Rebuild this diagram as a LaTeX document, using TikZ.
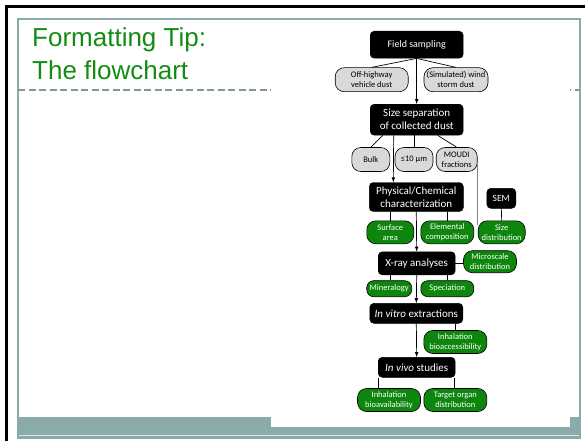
\documentclass[tikz,border=0pt]{standalone}
\usepackage{fontspec}
\setmainfont{Carlito}
\newfontfamily\titlefont{Liberation Sans}
\usepackage{xcolor}
\usepackage{tikz}
\usetikzlibrary{shapes,arrows,calc}
\definecolor{frameteal}{RGB}{138,171,170}
\definecolor{boxgreen}{RGB}{14,134,14}
\definecolor{boxgrey}{RGB}{217,217,217}
\definecolor{titlegreen}{RGB}{20,140,20}
\tikzstyle{tsTitle} = [
    text=titlegreen,
    font=\titlefont\fontsize{26}{30}\selectfont,
    inner sep=0pt,
    anchor=base west
]
\tikzstyle{tsBlackBox} = [
    rectangle,
    rounded corners=4pt,
    draw=black,
    fill=black,
    text=white,
    align=center,
    inner sep=1pt,
    font=\fontsize{11}{13}\selectfont
]
\tikzstyle{tsGreyBox} = [
    rectangle,
    rounded corners=9pt,
    draw=black,
    line width=0.6pt,
    fill=boxgrey,
    text=black,
    align=center,
    inner sep=1pt,
    font=\fontsize{8.5}{10}\selectfont
]
\tikzstyle{tsGreenBox} = [
    tsGreyBox,
    fill=boxgreen,
    text=white
]
\tikzstyle{tsLink} = [
    draw=black,
    line width=0.7pt
]

\begin{document}
\begin{tikzpicture} [x=1pt, y=-1pt, >=latex]
        \useasboundingbox (0,0) rectangle (585,441);

        % Slide frame
        \fill[frameteal] (17,417) rectangle (580,438);
        \draw[white!70!frameteal, line width=0.8pt] (17,435.8) -- (580,435.8);
        \draw[frameteal, line width=2pt] (17.5,19.5) rectangle (579.5,438);
        \draw[frameteal!90!black, dashed, dash pattern=on 7pt off 3.5pt, line width=2pt] (18,90) -- (579,90);
        \fill[white] (271,23) rectangle (570,427);
        \draw[black, line width=3pt] (6.5,441) -- (6.5,6.5) -- (585,6.5);

        % Title
        \node[tsTitle] (tip) at (32,46.7) {Formatting Tip:};
        \node[tsTitle] (chart) at (32,79.3) {The flowchart};

        % Define nodes
        \node[tsBlackBox, minimum width=93, minimum height=27,
              font=\fontsize{10}{12}\selectfont] (fs) at (416.7,44.7) {Field sampling};
        \node[tsGreyBox, minimum width=73, minimum height=24] (ohv) at (371.7,79.7) {Off-highway\\vehicle dust};
        \node[tsGreyBox, minimum width=64, minimum height=24] (wsd) at (456,79.7) {(Simulated) wind\\storm dust};

        \node[tsBlackBox, minimum width=93, minimum height=31] (ss) at (416.7,119.7) {Size separation\\of collected dust};
        \node[tsGreyBox, minimum width=38, minimum height=24] (bulk) at (370.8,159.5) {Bulk};
        \node[tsGreyBox, minimum width=38, minimum height=24] (pm) at (414,159.5) {≤10 µm};
        \node[tsGreyBox, minimum width=41, minimum height=24] (moudi) at (456.7,159.5) {MOUDI\\fractions};

        \node[tsBlackBox, minimum width=94, minimum height=29] (pc) at (416.3,197) {Physical/Chemical\\characterization};
        \node[tsBlackBox, minimum width=29, minimum height=20,
              font=\fontsize{9.5}{11}\selectfont] (sem) at (501.3,198.3) {SEM};
        \node[tsGreenBox, minimum width=47, minimum height=23] (sa) at (390.3,232.3) {Surface\\area};
        \node[tsGreenBox, minimum width=53, minimum height=23] (ec) at (447.3,232.3) {Elemental\\composition};
        \node[tsGreenBox, minimum width=47, minimum height=23] (sd) at (501.7,232.3) {Size\\distribution};

        \node[tsBlackBox, minimum width=77, minimum height=23] (xr) at (416.7,263.3) {X-ray analyses};
        \node[tsGreenBox, minimum width=53, minimum height=22] (ms) at (490,261.7) {Microscale\\distribution};
        \node[tsGreenBox, minimum width=45, minimum height=16, rounded corners=7pt] (min) at (389.2,288.7) {Mineralogy};
        \node[tsGreenBox, minimum width=53, minimum height=16, rounded corners=7pt] (spe) at (447.3,288.7) {Speciation};

        \node[tsBlackBox, minimum width=93, minimum height=20] (ivx) at (416.3,313.3) {\textit{In vitro} extractions};
        \node[tsGreenBox, minimum width=63, minimum height=23] (ib) at (455.3,342) {Inhalation\\bioaccessibility};

        \node[tsBlackBox, minimum width=77, minimum height=20] (ivv) at (416.7,367.3) {\textit{In vivo} studies};
        \node[tsGreenBox, minimum width=63, minimum height=23] (iba) at (389,400) {Inhalation\\bioavailability};
        \node[tsGreenBox, minimum width=63, minimum height=23] (tod) at (455.3,400) {Target organ\\distribution};

        % Connectors
        \draw[tsLink] (fs.south) -- (ohv.north);
        \draw[tsLink] (fs.south) -- (wsd.north);
        \draw[tsLink, ->] (fs.south) -- (ss.north);
        \draw[tsLink] ([xshift=-34pt]ss.south) -- (bulk.north);
        \draw[tsLink] (pm.north |- ss.south) -- (pm.north);
        \draw[tsLink] ([xshift=21pt]ss.south) -- (moudi.north);
        \draw[tsLink, ->] ([xshift=-23pt]ss.south) -- ([xshift=-23pt]pc.north);
        \draw[gray, line width=0.6pt] ([yshift=-4pt]moudi.east) -- ([yshift=-4pt]moudi.east |- sd.north);
        \draw[tsLink] (sa.north |- pc.south) -- (sa.north);
        \draw[tsLink] (ec.north |- pc.south) -- (ec.north);
        \draw[tsLink] (sem.south) -- (sd.north);
        \draw[tsLink, ->] (pc.south) -- (xr.north);
        \draw[tsLink] (xr.east) -- (xr.east -| ms.west);
        \draw[tsLink] (sa.north |- xr.south) -- (min.north -| sa.north);
        \draw[tsLink] (spe.north |- xr.south) -- (spe.north);
        \draw[tsLink, ->] (xr.south) -- (ivx.north);
        \draw[tsLink] (ib.north |- ivx.south) -- (ib.north);
        \draw[tsLink, ->] (ivx.south) -- (ivv.north);
        \draw[tsLink] ([xshift=0.7pt]ivv.south west) -- ([xshift=0.7pt]ivv.south west |- iba.north);
        \draw[tsLink] ([xshift=-0.7pt]ivv.south east) -- ([xshift=-0.7pt]ivv.south east |- tod.north);

    \end{tikzpicture}
\end{document}
